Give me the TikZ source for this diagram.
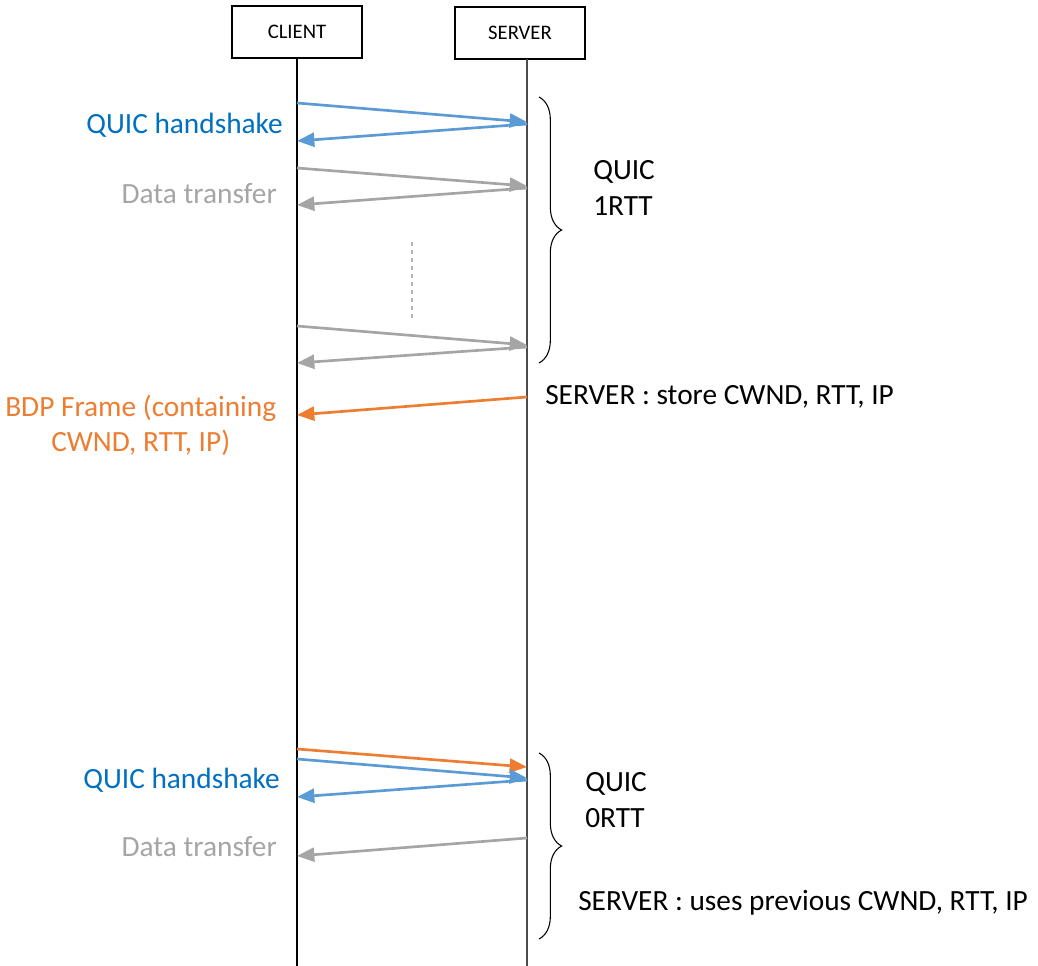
\documentclass[tikz,border=0pt]{standalone}
\usepackage{fontspec}
\setmainfont{Carlito}
\usepackage{tikz}
\usetikzlibrary{positioning, arrows.meta, decorations.pathreplacing}

\definecolor{qblue}{HTML}{5B9BD5}
\definecolor{qbluetext}{HTML}{0070C0}
\definecolor{qgray}{HTML}{A5A5A5}
\definecolor{qorange}{HTML}{ED7D31}

\begin{document}
\begin{tikzpicture}[x=0.75pt, y=-0.75pt,
        actor/.style={draw, line width=1.6pt, minimum width=97pt, minimum height=39pt,
            font=\fontsize{15.5}{18}\selectfont},
        lifeline/.style={line width=1pt},
        msg/.style={line width=2pt, -{Triangle[length=13pt,width=10.5pt]}},
        note/.style={inner sep=0pt, font=\fontsize{22}{26.5}\selectfont},
        phase/.style={decorate, decoration={brace, amplitude=17pt}, line width=0.8pt}]
        \useasboundingbox (0,0) rectangle (1038,966);

        % actors and lifelines
        \node[actor] (client) at (297,32) {CLIENT};
        \node[actor] (server) at (520,33) {SERVER};
        \coordinate (clend) at (297,966);
        \coordinate (svtop) at (527,59);
        \coordinate (svend) at (527,966);
        \draw[lifeline] (client.south) -- (clend);
        \draw[lifeline, black!70] (svtop) -- (svend);

        % message end points
        \coordinate (c1) at (297,103);  \coordinate (s1) at (527,122);
        \coordinate (s2) at (527,124);  \coordinate (c2) at (297,141);
        \coordinate (c3) at (297,168);  \coordinate (s3) at (527,186);
        \coordinate (s4) at (527,188);  \coordinate (c4) at (297,205);
        \coordinate (c5) at (297,326);  \coordinate (s5) at (527,345);
        \coordinate (s6) at (527,347);  \coordinate (c6) at (297,363);
        \coordinate (s7) at (527,397);  \coordinate (c7) at (297,415);
        \coordinate (c8) at (297,749);  \coordinate (s8) at (527,767);
        \coordinate (c9) at (297,759);  \coordinate (s9) at (527,778);
        \coordinate (s10) at (527,780); \coordinate (c10) at (297,797);
        \coordinate (s11) at (527,838); \coordinate (c11) at (297,856);

        % 1RTT connection
        \draw[msg, qblue] (c1) -- (s1);
        \draw[msg, qblue] (s2) -- (c2);
        \draw[msg, qgray] (c3) -- (s3);
        \draw[msg, qgray] (s4) -- (c4);
        \coordinate (gaptop) at (412,242);
        \coordinate (gapend) at (412,318);
        \draw[qgray!80, line width=0.8pt, dash pattern=on 3pt off 3pt] (gaptop) -- (gapend);
        \draw[msg, qgray] (c5) -- (s5);
        \draw[msg, qgray] (s6) -- (c6);
        \draw[msg, qorange] (s7) -- (c7);

        % 0RTT connection
        \draw[msg, qorange] (c8) -- (s8);
        \draw[msg, qblue] (c9) -- (s9);
        \draw[msg, qblue] (s10) -- (c10);
        \draw[msg, qgray] (s11) -- (c11);

        % braces
        \coordinate (rtt1top) at (539,97);
        \coordinate (rtt1end) at (539,363);
        \coordinate (rtt0top) at (539,753);
        \coordinate (rtt0end) at (539,939);
        \draw[phase] (rtt1top) -- (rtt1end);
        \draw[phase] (rtt0top) -- (rtt0end);

        % labels
        \node[note, qbluetext, anchor=east] (hs1) at (283,125) {QUIC handshake};
        \node[note, qgray, anchor=east] (dt1) at (277,194) {Data transfer};
        \node[note, qorange, align=center, anchor=west] (bdp) at (5,425) {BDP Frame (containing\\CWND, RTT, IP)};
        \node[note, anchor=west] (store) at (545,397) {SERVER : store CWND, RTT, IP};
        \node[note, anchor=west, align=left] (rtt1) at (593,188) {QUIC\\1RTT};
        \node[note, qbluetext, anchor=east] (hs2) at (280,780) {QUIC handshake};
        \node[note, qgray, anchor=east] (dt2) at (277,847) {Data transfer};
        \node[note, anchor=west, align=left] (rtt0) at (585,800) {QUIC\\0RTT};
        \node[note, anchor=west] (uses) at (578,903) {SERVER : uses previous CWND, RTT, IP};
    \end{tikzpicture}
\end{document}
